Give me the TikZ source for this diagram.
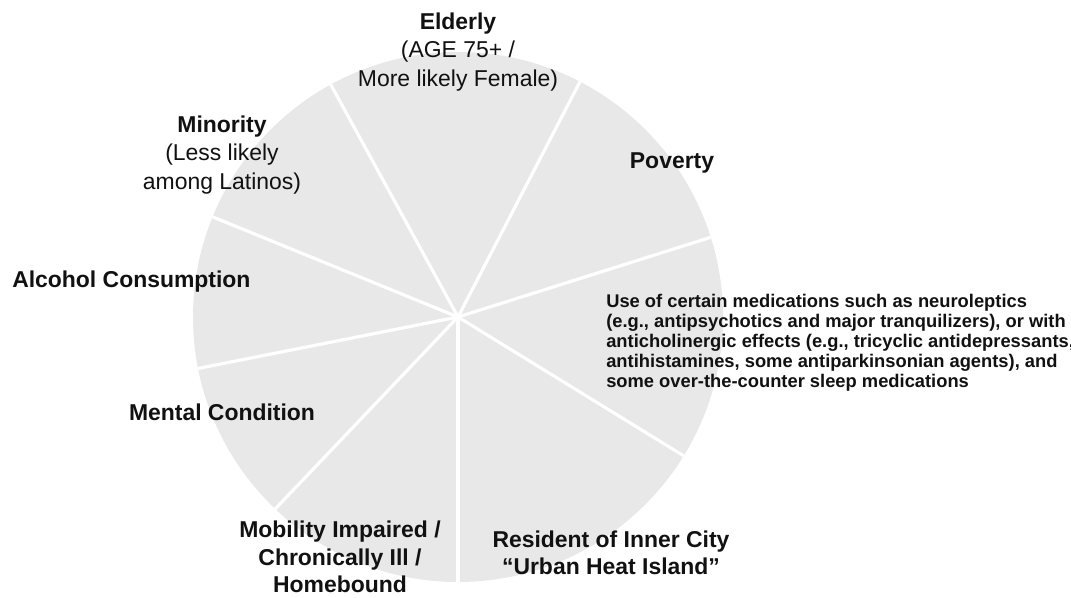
\documentclass[tikz,border=0pt]{standalone}
\usepackage{fontspec}
\setmainfont{Liberation Sans}
\definecolor{PieGray}{HTML}{E8E8E8}
\definecolor{InkBlack}{HTML}{111111}

\begin{document}
\begin{tikzpicture}[x=0.75pt,y=-0.75pt,
factor/.style={text=InkBlack,align=center,inner sep=0pt,font=\fontsize{17.2}{21.5}\selectfont},
note/.style={text=InkBlack,align=left,inner sep=0pt,font=\fontsize{13.75}{15}\selectfont\bfseries},
spoke/.style={draw=white,line width=2.4pt}]
\useasboundingbox (0,0) rectangle (1071,597);
\clip (0,0) rectangle (1071,597);
\coordinate (hub) at (458,317);
\fill[PieGray] (hub) circle[radius=198.75pt];
\foreach \a in {118.7,62.6,17.5,-31.6,-90,-133.6,191.2,157.8}
  \draw[spoke] (hub) -- ++(\a:198.75pt);
\node[factor] (elderly) at (458,52) {\textbf{Elderly}\\(AGE 75+ /\\More likely Female)};
\node[factor] (minority) at (222,155) {\textbf{Minority}\\(Less likely\\among Latinos)};
\node[factor,font=\fontsize{17.2}{21.5}\selectfont\bfseries] (poverty) at (672,163) {Poverty};
\node[factor,font=\fontsize{17.2}{21.5}\selectfont\bfseries,anchor=west] (alcohol) at (12,282) {Alcohol Consumption};
\node[factor,font=\fontsize{17.2}{21.5}\selectfont\bfseries] (mental) at (222,412) {Mental Condition};
\node[factor,font=\fontsize{17.2}{20.5}\selectfont\bfseries] (mobility) at (340,557) {Mobility Impaired /\\Chronically Ill /\\Homebound};
\node[factor,font=\fontsize{17.2}{20.5}\selectfont\bfseries] (resident) at (611,553) {Resident of Inner City\\“Urban Heat Island”};
\node[note,anchor=west] (meds) at (606,343) {Use of certain medications such as neuroleptics\\(e.g., antipsychotics and major tranquilizers), or with\\anticholinergic effects (e.g., tricyclic antidepressants,\\antihistamines, some antiparkinsonian agents), and\\some over-the-counter sleep medications};
\end{tikzpicture}
\end{document}
